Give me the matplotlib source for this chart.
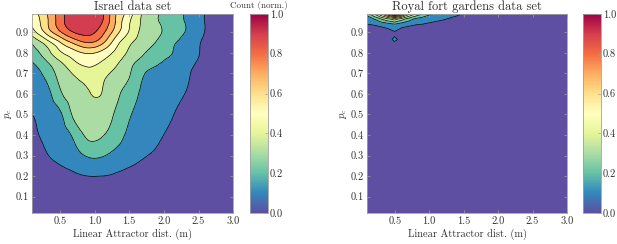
import numpy as np
import matplotlib
matplotlib.use("Agg")
from matplotlib import pyplot as plt
import matplotlib.tri as mtri
from matplotlib import cm, colors, ticker

plt.rcParams['font.family'] = 'serif'
plt.rcParams['font.serif'] = ['cmr10']
plt.rcParams['mathtext.fontset'] = 'cm'
plt.rcParams['axes.formatter.use_mathtext'] = True
plt.rcParams['font.size'] = 7.5

#Israel data set, normalised count on (attractor dist, p_c) grid
israelX = [0.1, 0.3, 0.5, 0.7, 0.9, 1.1, 1.3, 1.5, 1.7, 1.9, 2.1, 2.3, 2.5, 2.7, 2.9, 3.1]
israelY = [0.0, 0.1, 0.2, 0.3, 0.4, 0.5, 0.6, 0.7, 0.75, 0.8, 0.85, 0.9, 0.95, 1.0]
israelCount = [
    [0.00, 0.00, 0.00, 0.00, 0.00, 0.00, 0.00, 0.00, 0.00, 0.00, 0.00, 0.00, 0.00, 0.00, 0.00, 0.00],
    [0.00, 0.01, 0.02, 0.03, 0.04, 0.04, 0.035, 0.03, 0.02, 0.01, 0.01, 0.00, 0.00, 0.00, 0.00, 0.00],
    [0.01, 0.03, 0.06, 0.085, 0.10, 0.10, 0.09, 0.07, 0.05, 0.03, 0.02, 0.01, 0.00, 0.00, 0.00, 0.00],
    [0.03, 0.09, 0.13, 0.16, 0.21, 0.21, 0.17, 0.14, 0.11, 0.08, 0.05, 0.03, 0.01, 0.00, 0.00, 0.00],
    [0.07, 0.12, 0.15, 0.22, 0.32, 0.31, 0.25, 0.18, 0.15, 0.12, 0.08, 0.05, 0.03, 0.01, 0.00, 0.00],
    [0.10, 0.13, 0.18, 0.32, 0.36, 0.35, 0.29, 0.21, 0.17, 0.15, 0.11, 0.07, 0.04, 0.02, 0.01, 0.00],
    [0.12, 0.16, 0.28, 0.35, 0.39, 0.40, 0.33, 0.25, 0.18, 0.15, 0.13, 0.10, 0.06, 0.03, 0.01, 0.00],
    [0.15, 0.23, 0.33, 0.41, 0.46, 0.43, 0.38, 0.31, 0.21, 0.17, 0.15, 0.115, 0.08, 0.04, 0.02, 0.01],
    [0.19, 0.28, 0.38, 0.48, 0.52, 0.49, 0.42, 0.33, 0.26, 0.21, 0.17, 0.13, 0.09, 0.04, 0.02, 0.01],
    [0.26, 0.35, 0.48, 0.56, 0.61, 0.57, 0.48, 0.38, 0.31, 0.25, 0.205, 0.16, 0.105, 0.05, 0.02, 0.01],
    [0.31, 0.44, 0.59, 0.72, 0.80, 0.73, 0.55, 0.42, 0.35, 0.29, 0.22, 0.17, 0.11, 0.06, 0.03, 0.01],
    [0.45, 0.62, 0.78, 0.90, 0.93, 0.84, 0.65, 0.49, 0.37, 0.32, 0.26, 0.20, 0.13, 0.07, 0.03, 0.01],
    [0.52, 0.67, 0.85, 0.96, 0.98, 0.91, 0.70, 0.51, 0.38, 0.31, 0.25, 0.20, 0.13, 0.07, 0.03, 0.01],
    [0.55, 0.69, 0.85, 0.97, 1.00, 0.93, 0.70, 0.56, 0.39, 0.31, 0.25, 0.195, 0.13, 0.07, 0.03, 0.01],
]

#Royal fort gardens data set, almost everything sits at the top
royalX = [0.1, 0.2, 0.3, 0.4, 0.5, 0.6, 0.7, 0.8, 0.9, 1.0, 1.2, 1.4, 1.6, 3.1]
royalY = [0.0, 0.84, 0.865, 0.89, 0.915, 0.94, 0.965, 0.99]
royalCount = [
    [0.00, 0.00, 0.00, 0.00, 0.00, 0.00, 0.00, 0.00, 0.00, 0.00, 0.00, 0.00, 0.00, 0.00],
    [0.00, 0.00, 0.00, 0.00, 0.00, 0.00, 0.00, 0.00, 0.00, 0.00, 0.00, 0.00, 0.00, 0.00],
    [0.00, 0.00, 0.00, 0.01, 0.16, 0.01, 0.00, 0.00, 0.00, 0.00, 0.00, 0.00, 0.00, 0.00],
    [0.02, 0.02, 0.02, 0.03, 0.06, 0.03, 0.02, 0.02, 0.01, 0.01, 0.00, 0.00, 0.00, 0.00],
    [0.05, 0.06, 0.07, 0.09, 0.13, 0.08, 0.06, 0.04, 0.03, 0.03, 0.02, 0.01, 0.00, 0.00],
    [0.10, 0.11, 0.13, 0.16, 0.20, 0.15, 0.13, 0.11, 0.10, 0.09, 0.06, 0.03, 0.01, 0.00],
    [0.12, 0.20, 0.30, 0.38, 0.45, 0.35, 0.25, 0.18, 0.15, 0.13, 0.11, 0.07, 0.02, 0.00],
    [0.25, 0.40, 0.60, 0.80, 1.00, 0.80, 0.55, 0.40, 0.30, 0.22, 0.16, 0.12, 0.07, 0.00],
]

levels = np.linspace(0, 1, 11)
cmap = plt.get_cmap('Spectral_r')
#matlab style: each band gets the colour of its lower level
fillColours = [cmap(l) for l in levels[:-1]]
textCol = '#303030'
edgeCol = '#a0a0a0'


def smoothField(xs, ys, zs):
    X, Y = np.meshgrid(xs, ys)
    tri = mtri.Triangulation(X.ravel(), Y.ravel())
    refiner = mtri.UniformTriRefiner(tri)
    triFine, zFine = refiner.refine_field(np.asarray(zs, dtype=float).ravel(), subdiv=3)
    return triFine, np.clip(zFine, 0, 1)


def styleAxes(ax, title):
    ax.set_xlim(0.1, 3.0)
    ax.set_ylim(0.02, 0.99)
    ax.set_xticks([0.5, 1.0, 1.5, 2.0, 2.5, 3.0])
    ax.set_yticks(np.arange(1, 10) / 10)
    ax.xaxis.set_major_formatter(ticker.FormatStrFormatter('%.1f'))
    ax.yaxis.set_major_formatter(ticker.FormatStrFormatter('%.1f'))
    ax.tick_params(direction='in', length=2, width=0.5, colors=edgeCol,
                   labelcolor=textCol, top=True, right=True, pad=2.5)
    for s in ax.spines.values():
        s.set_color(edgeCol)
        s.set_linewidth(0.6)
    ax.set_title(title, color=textCol, pad=3)
    ax.set_xlabel("Linear Attractor dist. (m)", color=textCol, labelpad=2)
    ax.set_ylabel("$p_c$", color=textCol, labelpad=1)


def addColourbar(fig, rect, label=None):
    cax = fig.add_axes(rect)
    sm = cm.ScalarMappable(norm=colors.Normalize(0, 1), cmap=cmap)
    cb = fig.colorbar(sm, cax=cax, ticks=[0, 0.2, 0.4, 0.6, 0.8, 1.0], format='%.1f')
    cb.outline.set_edgecolor(edgeCol)
    cb.outline.set_linewidth(0.6)
    cax.tick_params(direction='in', length=2, width=0.5, colors=edgeCol,
                    labelcolor=textCol, pad=1.5)
    if label:
        cax.set_title(label, color=textCol, pad=4, fontsize=6.5)
    return cb


fig = plt.figure(figsize=(6.17, 2.44), dpi=100)

#Israel
ax1 = fig.add_axes([0.052, 0.127, 0.326, 0.816])
triFine, zFine = smoothField(israelX, israelY, israelCount)
ax1.tricontourf(triFine, zFine, levels=levels, colors=fillColours)
ax1.tricontour(triFine, zFine, levels=levels[1:-1], colors='k', linewidths=0.5)
styleAxes(ax1, "Israel data set")
addColourbar(fig, [0.405, 0.127, 0.029, 0.816], "Count (norm.)")

#Royal fort gardens
ax2 = fig.add_axes([0.595, 0.127, 0.324, 0.816])
ax2.contourf(royalX, royalY, royalCount, levels=levels, colors=fillColours)
ax2.contour(royalX, royalY, royalCount, levels=levels[1:-1], colors='k', linewidths=0.5)
styleAxes(ax2, "Royal fort gardens data set")
addColourbar(fig, [0.945, 0.127, 0.029, 0.816])

fig.savefig("out.png", dpi=100)
